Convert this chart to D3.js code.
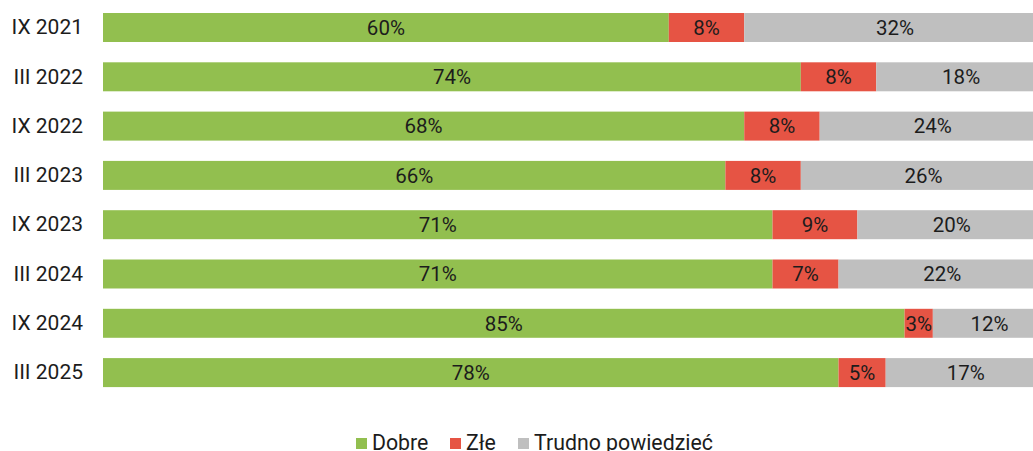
<!DOCTYPE html>
<html>
<head>
<meta charset="utf-8">
<script src="https://cdn.jsdelivr.net/npm/d3@7"></script>
<style>
  body { margin: 0; background: #fff; overflow: hidden; }
  svg text { font-family: Roboto, "Noto Sans", sans-serif; fill: #1c1c1c; }
</style>
</head>
<body>
<div id="chart"></div>
<script>
// survey waves and answer shares (%)
var waves = ["IX 2021", "III 2022", "IX 2022", "III 2023", "IX 2023", "III 2024", "IX 2024", "III 2025"];
var dobre = [60, 74, 68, 66, 71, 71, 85, 78];
var zle = [8, 8, 8, 8, 9, 7, 3, 5];
var trudno = [32, 18, 24, 26, 20, 22, 12, 17];

var seriesNames = ["Dobre", "Złe", "Trudno powiedzieć"];
var seriesColors = ["#92bf4f", "#e65444", "#bfbfbf"];

var width = 1033, height = 451;

var svg = d3.select("#chart").append("svg")
    .attr("width", width)
    .attr("height", height);

// build rows for stacking
var rows = waves.map(function (w, i) {
    return {wave: w, "Dobre": dobre[i], "Złe": zle[i], "Trudno powiedzieć": trudno[i]};
});

var stack = d3.stack().keys(seriesNames);
var stacked = stack(rows);

var x = d3.scaleLinear().domain([0, 100]).range([103, 1046]);
var y = d3.scaleBand().domain(waves).range([-7.3, 407.4])
    .paddingInner(0.412).paddingOuter(0.412);

var color = d3.scaleOrdinal().domain(seriesNames).range(seriesColors);

// bars
var layer = svg.append("g").selectAll("g")
    .data(stacked)
    .enter().append("g")
    .attr("fill", function (d) { return color(d.key); });

layer.selectAll("rect")
    .data(function (d) { return d; })
    .enter().append("rect")
    .attr("x", function (d) { return x(d[0]); })
    .attr("y", function (d) { return y(d.data.wave); })
    .attr("width", function (d) { return x(d[1]) - x(d[0]); })
    .attr("height", y.bandwidth());

// value labels
layer.selectAll("text")
    .data(function (d) { return d; })
    .enter().append("text")
    .attr("x", function (d) { return (x(d[0]) + x(d[1])) / 2; })
    .attr("y", function (d) { return y(d.data.wave) + y.bandwidth() / 2; })
    .attr("dy", "0.36em")
    .attr("text-anchor", "middle")
    .style("font-size", "20.5px")
    .text(function (d) { return (d[1] - d[0]) + "%"; });

// category axis, no line or ticks
var yAxis = svg.append("g")
    .attr("transform", "translate(103,0)")
    .call(d3.axisLeft(y).tickSize(0).tickPadding(20));
yAxis.select(".domain").remove();
yAxis.selectAll("text")
    .style("font-size", "21px")
    .style("font-family", "Roboto, sans-serif")
    .attr("fill", "#1c1c1c");

// legend
var legendX = [356, 450, 518];
var legend = svg.append("g").selectAll("g")
    .data(seriesNames)
    .enter().append("g")
    .attr("transform", function (d, i) { return "translate(" + legendX[i] + ",438)"; });

legend.append("rect")
    .attr("width", 11)
    .attr("height", 11)
    .attr("fill", function (d) { return color(d); });

legend.append("text")
    .attr("x", 16)
    .attr("y", 12)
    .style("font-size", "21.3px")
    .text(function (d) { return d; });
</script>
</body>
</html>
